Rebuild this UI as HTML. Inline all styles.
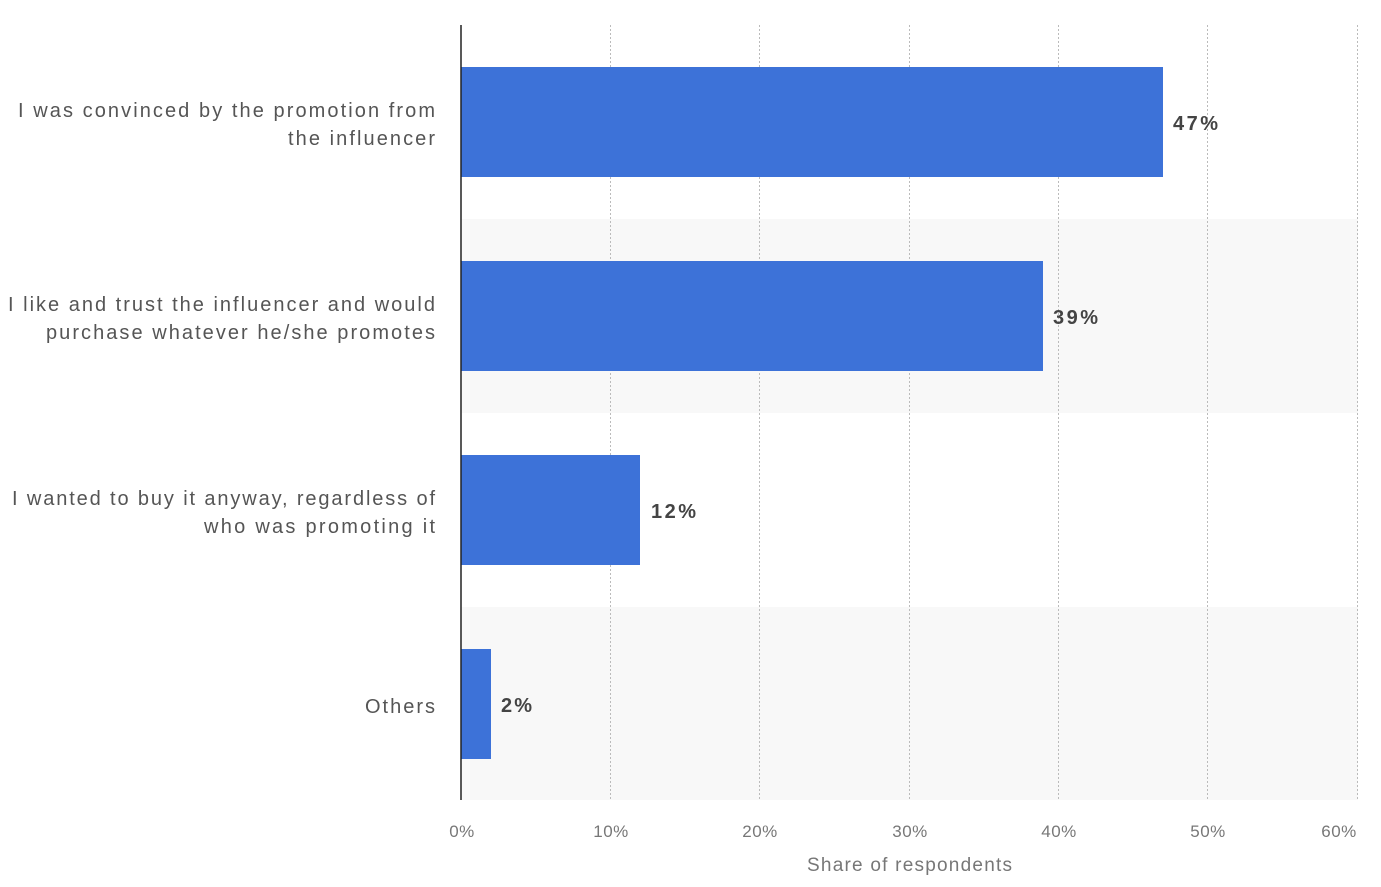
<!DOCTYPE html>
<html><head><meta charset="utf-8"><style>
body{margin:0;width:1381px;height:882px;background:#fff;font-family:"Liberation Sans",sans-serif;overflow:hidden}
</style></head><body>
<svg width="1381" height="882" xmlns="http://www.w3.org/2000/svg" font-family="Liberation Sans, sans-serif">
<rect x="461" y="219" width="897" height="194" fill="#f8f8f8"/>
<rect x="461" y="607" width="897" height="193" fill="#f8f8f8"/>
<g stroke="#bbb" stroke-dasharray="2,2" stroke-width="1">
<line x1="610.5" y1="25" x2="610.5" y2="800"/>
<line x1="759.5" y1="25" x2="759.5" y2="800"/>
<line x1="909.5" y1="25" x2="909.5" y2="800"/>
<line x1="1058.5" y1="25" x2="1058.5" y2="800"/>
<line x1="1207.5" y1="25" x2="1207.5" y2="800"/>
<line x1="1357.5" y1="25" x2="1357.5" y2="800"/>
</g>
<g fill="#3d72d8">
<rect x="461" y="67" width="702" height="110"/>
<rect x="461" y="261" width="582" height="110"/>
<rect x="461" y="455" width="179" height="110"/>
<rect x="461" y="649" width="30" height="110"/>
</g>
<line x1="461" y1="25" x2="461" y2="800" stroke="#222" stroke-width="1.5"/>
<g font-size="20" fill="#444" font-weight="bold" lengthAdjust="spacing">
<text x="1173" y="130" textLength="45">47%</text>
<text x="1053" y="324" textLength="45">39%</text>
<text x="651" y="518" textLength="45">12%</text>
<text x="501" y="712" textLength="31">2%</text>
</g>
<g font-size="20" fill="#555" lengthAdjust="spacing">
<text x="18" y="117" textLength="417">I was convinced by the promotion from</text>
<text x="288" y="145" textLength="147">the influencer</text>
<text x="8" y="311" textLength="427">I like and trust the influencer and would</text>
<text x="46" y="339" textLength="389">purchase whatever he/she promotes</text>
<text x="12" y="505" textLength="423">I wanted to buy it anyway, regardless of</text>
<text x="204" y="533" textLength="231">who was promoting it</text>
<text x="365" y="713" textLength="70">Others</text>
</g>
<g font-size="17" fill="#777" text-anchor="middle" letter-spacing="0.5">
<text x="462" y="837">0%</text>
<text x="611" y="837">10%</text>
<text x="760" y="837">20%</text>
<text x="910" y="837">30%</text>
<text x="1059" y="837">40%</text>
<text x="1208" y="837">50%</text>
<text x="1339" y="837">60%</text>
</g>
<text x="807" y="871" font-size="19" fill="#777" textLength="205" lengthAdjust="spacing">Share of respondents</text>
</svg>
</body></html>
